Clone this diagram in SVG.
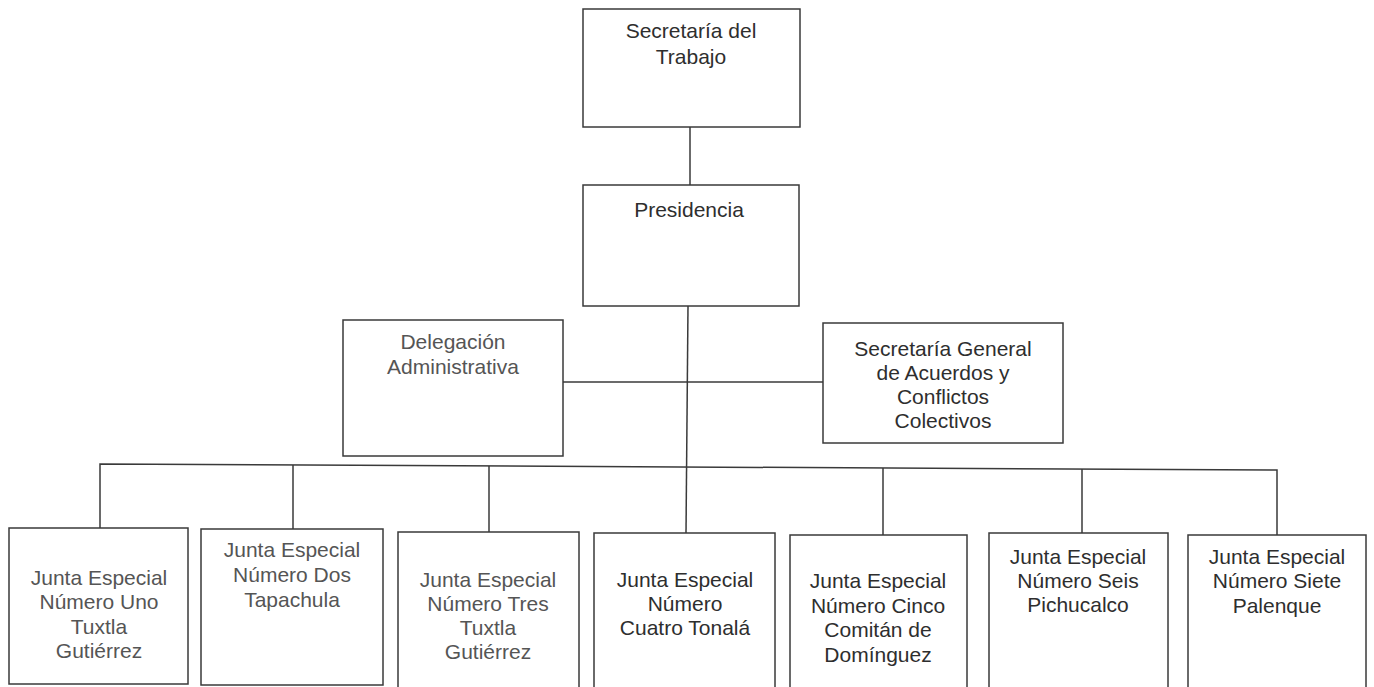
<svg xmlns="http://www.w3.org/2000/svg" width="1374" height="687" viewBox="0 0 1374 687">
<style>
.box{fill:#fff;stroke:#3a3a3a;stroke-width:1.5}
.ln{fill:none;stroke:#3a3a3a;stroke-width:1.5}
text{font-family:"Liberation Sans",Arial,sans-serif;font-size:21px;text-anchor:middle;fill:#2e2e2e}
.lt{fill:#555}
</style>
<rect width="1374" height="687" fill="#fff"/>
<g id="connectors">
<line class="ln" x1="690" y1="127" x2="690" y2="185"/>
<line class="ln" x1="688" y1="306" x2="686" y2="533"/>
<line class="ln" x1="563" y1="382" x2="823" y2="382"/>
<polyline class="ln" points="100,528 100,464 1277,470 1277,535"/>
<line class="ln" x1="293" y1="465" x2="293" y2="529"/>
<line class="ln" x1="489" y1="466" x2="489" y2="532"/>
<line class="ln" x1="883" y1="468" x2="883" y2="535"/>
<line class="ln" x1="1082" y1="469" x2="1082" y2="533"/>
</g>
<g id="secretaria-trabajo">
<rect class="box" x="583" y="9" width="217" height="118"/>
<text x="691" y="38">Secretaría del</text>
<text x="691" y="64">Trabajo</text>
</g>
<g id="presidencia">
<rect class="box" x="583" y="185" width="216" height="121"/>
<text x="689" y="217">Presidencia</text>
</g>
<g id="delegacion">
<rect class="box" x="343" y="320" width="220" height="136"/>
<text class="lt" x="453" y="349">Delegación</text>
<text class="lt" x="453" y="374">Administrativa</text>
</g>
<g id="secretaria-general">
<rect class="box" x="823" y="323" width="240" height="120"/>
<text x="943" y="356">Secretaría General</text>
<text x="943" y="380">de Acuerdos y</text>
<text x="943" y="404">Conflictos</text>
<text x="943" y="428">Colectivos</text>
</g>
<g id="junta-1">
<rect class="box" x="9" y="528" width="179" height="156"/>
<text class="lt" x="99" y="585">Junta Especial</text>
<text class="lt" x="99" y="609">Número Uno</text>
<text class="lt" x="99" y="634">Tuxtla</text>
<text class="lt" x="99" y="658">Gutiérrez</text>
</g>
<g id="junta-2">
<rect class="box" x="201" y="529" width="182" height="156"/>
<text class="lt" x="292" y="557">Junta Especial</text>
<text class="lt" x="292" y="582">Número Dos</text>
<text class="lt" x="292" y="607">Tapachula</text>
</g>
<g id="junta-3">
<rect class="box" x="398" y="532" width="181" height="158"/>
<text class="lt" x="488" y="587">Junta Especial</text>
<text class="lt" x="488" y="611">Número Tres</text>
<text class="lt" x="488" y="635">Tuxtla</text>
<text class="lt" x="488" y="659">Gutiérrez</text>
</g>
<g id="junta-4">
<rect class="box" x="594" y="533" width="181" height="158"/>
<text x="685" y="587">Junta Especial</text>
<text x="685" y="611">Número</text>
<text x="685" y="635">Cuatro Tonalá</text>
</g>
<g id="junta-5">
<rect class="box" x="790" y="535" width="177" height="156"/>
<text x="878" y="588">Junta Especial</text>
<text x="878" y="613">Número Cinco</text>
<text x="878" y="637">Comitán de</text>
<text x="878" y="662">Domínguez</text>
</g>
<g id="junta-6">
<rect class="box" x="989" y="533" width="179" height="158"/>
<text x="1078" y="564">Junta Especial</text>
<text x="1078" y="588">Número Seis</text>
<text x="1078" y="612">Pichucalco</text>
</g>
<g id="junta-7">
<rect class="box" x="1188" y="535" width="178" height="156"/>
<text x="1277" y="564">Junta Especial</text>
<text x="1277" y="588">Número Siete</text>
<text x="1277" y="613">Palenque</text>
</g>
</svg>
